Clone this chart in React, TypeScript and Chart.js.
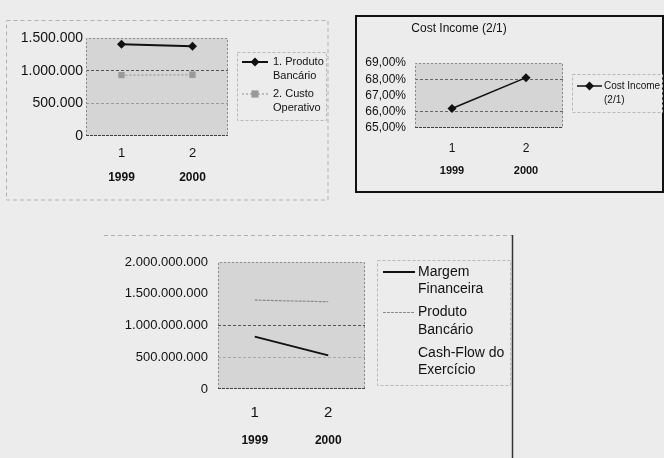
import React, { useEffect, useRef } from "react";
import { Chart, registerables } from "chart.js";
Chart.register(...registerables);

const FONT = "'Liberation Sans', Arial, sans-serif";

// ---- data ----
const TICK_NUMBERS = ["1", "2"];
const YEARS = ["1999", "2000"];

const PRODUTO_BANCARIO_K = [1406000, 1375000];
const CUSTO_OPERATIVO_K = [931000, 937000];

const COST_INCOME = [66.2, 68.1];

const MARGEM_FINANCEIRA = [825000000, 530000000];
const PRODUTO_BANCARIO = [1400000000, 1374000000];
const CASH_FLOW: (number | null)[] = [];

const TITLE2 = "Cost Income (2/1)";
const LABELS1 = ["1. Produto Bancário", "2. Custo Operativo"];
const LEGEND1 = [["1. Produto", "Bancário"], ["2. Custo", "Operativo"]];
const LABELS2 = ["Cost Income (2/1)"];
const LEGEND2 = [["Cost Income", "(2/1)"]];
const LABELS3 = ["Margem Financeira", "Produto Bancário", "Cash-Flow do Exercício"];
const LEGEND3 = [["Margem", "Financeira"], ["Produto", "Bancário"], ["Cash-Flow do", "Exercício"]];

const dotted = (v: number) => String(Math.round(v)).replace(/\B(?=(\d{3})+(?!\d))/g, ".");
const pct = (v: number) => v.toFixed(2).replace(".", ",") + "%";

// ---- decoration plugin ----
const decoPlugin = {
  id: "deco",
  beforeDraw(chart: any, _a: any, o: any) {
    const ctx = chart.ctx;
    const { left, top, right, bottom } = chart.chartArea;
    const W = chart.width, H = chart.height;
    ctx.save();
    if (o.frame === "dashed") {
      ctx.strokeStyle = "#b0b0b0";
      ctx.lineWidth = 1;
      ctx.setLineDash([4, 3]);
      ctx.strokeRect(0.5, 0.5, W - 1.5, H - 1.5);
    } else if (o.frame === "solid") {
      ctx.strokeStyle = "#111";
      ctx.lineWidth = 2;
      ctx.setLineDash([]);
      ctx.strokeRect(1, 1, W - 2, H - 2);
    } else if (o.frame === "topRight") {
      ctx.strokeStyle = "#b0b0b0";
      ctx.lineWidth = 1;
      ctx.setLineDash([4, 3]);
      ctx.beginPath();
      ctx.moveTo(0, 0.5);
      ctx.lineTo(W - 2, 0.5);
      ctx.stroke();
      ctx.setLineDash([]);
      ctx.strokeStyle = "#333";
      ctx.lineWidth = 1.5;
      ctx.beginPath();
      ctx.moveTo(W - 1.5, 0);
      ctx.lineTo(W - 1.5, H);
      ctx.stroke();
    }
    ctx.setLineDash([]);
    ctx.fillStyle = "#d5d5d5";
    ctx.fillRect(left, top, right - left, bottom - top);
    ctx.restore();
  },
  beforeDatasetsDraw(chart: any) {
    const ctx = chart.ctx;
    const { left, top, right, bottom } = chart.chartArea;
    ctx.save();
    ctx.strokeStyle = "#8a8a8a";
    ctx.lineWidth = 1;
    ctx.setLineDash([2, 2]);
    ctx.beginPath();
    ctx.moveTo(left + 0.5, bottom);
    ctx.lineTo(left + 0.5, top + 0.5);
    ctx.lineTo(right - 0.5, top + 0.5);
    ctx.lineTo(right - 0.5, bottom);
    ctx.stroke();
    ctx.setLineDash([3, 1]);
    ctx.strokeStyle = "#444";
    ctx.beginPath();
    ctx.moveTo(left, bottom - 0.5);
    ctx.lineTo(right, bottom - 0.5);
    ctx.stroke();
    ctx.restore();
  },
  afterDraw(chart: any, _a: any, o: any) {
    const lg = o.legend;
    if (!lg) return;
    const ctx = chart.ctx;
    ctx.save();
    ctx.strokeStyle = "#b8b8b8";
    ctx.lineWidth = 1;
    ctx.setLineDash([3, 2]);
    ctx.strokeRect(lg.x + 0.5, lg.y + 0.5, lg.w, lg.h);
    ctx.setLineDash([]);
    ctx.font = `${lg.fontSize}px ${FONT}`;
    ctx.textBaseline = "middle";
    ctx.textAlign = "left";
    chart.data.datasets.forEach((ds: any, i: number) => {
      const iy = lg.firstY + i * lg.itemGap;
      if (ds.borderColor && ds.borderColor !== "transparent") {
        ctx.strokeStyle = ds.borderColor;
        ctx.lineWidth = ds.borderWidth || 1;
        ctx.setLineDash(ds.borderDash || []);
        ctx.beginPath();
        ctx.moveTo(lg.lineX0, iy);
        ctx.lineTo(lg.lineX1, iy);
        ctx.stroke();
        ctx.setLineDash([]);
        const r = ds.pointRadius || 0;
        if (r > 0) {
          const cx = (lg.lineX0 + lg.lineX1) / 2;
          ctx.fillStyle = ds.pointBackgroundColor;
          ctx.beginPath();
          if (ds.pointStyle === "rectRot") {
            ctx.moveTo(cx, iy - r);
            ctx.lineTo(cx + r, iy);
            ctx.lineTo(cx, iy + r);
            ctx.lineTo(cx - r, iy);
            ctx.closePath();
          } else {
            ctx.rect(cx - r * 0.8, iy - r * 0.8, r * 1.6, r * 1.6);
          }
          ctx.fill();
        }
      }
      ctx.fillStyle = "#111";
      (lg.lines[i] || []).forEach((t: string, j: number) => {
        ctx.fillText(t, lg.textX, iy + j * lg.lineHeight);
      });
    });
    ctx.restore();
  },
};

function xAxes(numSize: number, numPad: number, h1: number, yearSize: number, yearPad: number, h2: number) {
  return {
    x: {
      type: "category",
      labels: TICK_NUMBERS,
      offset: true,
      weight: 1,
      grid: { display: false, drawTicks: false },
      border: { display: false },
      ticks: { color: "#111", padding: numPad, maxRotation: 0, autoSkip: false, font: { family: FONT, size: numSize } },
      afterFit: (s: any) => { s.height = h1; },
    },
    x2: {
      type: "category",
      position: "bottom",
      labels: YEARS,
      offset: true,
      weight: 2,
      grid: { display: false, drawTicks: false },
      border: { display: false },
      ticks: { color: "#111", padding: yearPad, maxRotation: 0, autoSkip: false, font: { family: FONT, size: yearSize, weight: "bold" } },
      afterFit: (s: any) => { s.height = h2; },
    },
  };
}

function ChartBox({ left, top, width, height, config }: any) {
  const ref = useRef<HTMLCanvasElement | null>(null);
  useEffect(() => {
    if (!ref.current) return;
    const c = new Chart(ref.current, config);
    return () => c.destroy();
  }, []);
  return (
    <canvas
      ref={ref}
      width={width}
      height={height}
      style={{ position: "absolute", left, top, width, height }}
    />
  );
}

const baseOptions = {
  responsive: false,
  animation: false,
  devicePixelRatio: 1,
  events: [],
};

const config1 = {
  type: "line",
  data: {
    labels: TICK_NUMBERS,
    datasets: [
      {
        label: LABELS1[0],
        data: PRODUTO_BANCARIO_K,
        borderColor: "#111",
        borderWidth: 2,
        pointStyle: "rectRot",
        pointRadius: 4.5,
        pointBackgroundColor: "#111",
        pointBorderColor: "#111",
        pointBorderWidth: 0,
      },
      {
        label: LABELS1[1],
        data: CUSTO_OPERATIVO_K,
        borderColor: "#8c8c8c",
        borderWidth: 1,
        borderDash: [2, 2],
        pointStyle: "rect",
        pointRadius: 4.5,
        pointBackgroundColor: "#9a9a9a",
        pointBorderColor: "#9a9a9a",
        pointBorderWidth: 0,
      },
    ],
  },
  options: {
    ...baseOptions,
    layout: { padding: { left: 0, top: 18, right: 101, bottom: 0 } },
    plugins: {
      legend: { display: false },
      tooltip: { enabled: false },
      deco: {
        frame: "dashed",
        legend: { x: 231, y: 32, w: 89, h: 68, firstY: 42, itemGap: 32, lineHeight: 14, fontSize: 11, lineX0: 236, lineX1: 262, textX: 267, lines: LEGEND1 },
      },
    },
    scales: {
      ...xAxes(13, 10, 28, 12, 6, 37),
      y: {
        min: 0,
        max: 1500000,
        ticks: { stepSize: 500000, autoSkip: false, color: "#111", padding: 3, font: { family: FONT, size: 14 }, callback: (v: any) => dotted(v) },
        grid: {
          drawTicks: false,
          color: (c: any) => (c.tick && c.tick.value === 1000000 ? "#555" : c.tick && c.tick.value === 500000 ? "#9a9a9a" : "transparent"),
        },
        border: { display: false, dash: [3, 2] },
        afterFit: (s: any) => { s.width = 80; },
      },
    },
  },
  plugins: [decoPlugin],
};

const config2 = {
  type: "line",
  data: {
    labels: TICK_NUMBERS,
    datasets: [
      {
        label: LABELS2[0],
        data: COST_INCOME,
        borderColor: "#111",
        borderWidth: 1.5,
        pointStyle: "rectRot",
        pointRadius: 4.5,
        pointBackgroundColor: "#111",
        pointBorderColor: "#111",
        pointBorderWidth: 0,
      },
    ],
  },
  options: {
    ...baseOptions,
    layout: { padding: { left: 0, top: 0, right: 101, bottom: 0 } },
    plugins: {
      legend: { display: false },
      tooltip: { enabled: false },
      title: {
        display: true,
        text: TITLE2,
        color: "#111",
        font: { family: FONT, size: 12, weight: "normal" },
        padding: { top: 6, bottom: 27.6 },
      },
      deco: {
        frame: "solid",
        legend: { x: 217, y: 59, w: 90, h: 38, firstY: 71, itemGap: 30, lineHeight: 14, fontSize: 10, lineX0: 222, lineX1: 247, textX: 249, lines: LEGEND2 },
      },
    },
    scales: {
      ...xAxes(12, 13, 27, 11, 9, 38),
      y: {
        min: 65,
        max: 69,
        ticks: { stepSize: 1, autoSkip: false, color: "#111", padding: 9, font: { family: FONT, size: 12 }, callback: (v: any) => pct(v) },
        grid: {
          drawTicks: false,
          color: (c: any) => (c.tick && (c.tick.value === 66 || c.tick.value === 68) ? "#666" : "transparent"),
        },
        border: { display: false, dash: [3, 2] },
        afterFit: (s: any) => { s.width = 60; },
      },
    },
  },
  plugins: [decoPlugin],
};

const config3 = {
  type: "line",
  data: {
    labels: TICK_NUMBERS,
    datasets: [
      {
        label: LABELS3[0],
        data: MARGEM_FINANCEIRA,
        borderColor: "#111",
        borderWidth: 2,
        pointRadius: 0,
      },
      {
        label: LABELS3[1],
        data: PRODUTO_BANCARIO,
        borderColor: "#8a8a8a",
        borderWidth: 1.2,
        borderDash: [3, 1],
        pointRadius: 0,
      },
      {
        label: LABELS3[2],
        data: CASH_FLOW,
        borderColor: "transparent",
        borderWidth: 0,
        pointRadius: 0,
      },
    ],
  },
  options: {
    ...baseOptions,
    layout: { padding: { left: 0, top: 27, right: 149, bottom: 0 } },
    plugins: {
      legend: { display: false },
      tooltip: { enabled: false },
      deco: {
        frame: "topRight",
        legend: { x: 273, y: 25, w: 133, h: 125, firstY: 37, itemGap: 40.5, lineHeight: 17.5, fontSize: 14, lineX0: 279, lineX1: 311, textX: 314, lines: LEGEND3 },
      },
    },
    scales: {
      ...xAxes(15, 15, 32, 12, 12, 37),
      y: {
        min: 0,
        max: 2000000000,
        ticks: { stepSize: 500000000, autoSkip: false, color: "#111", padding: 10, font: { family: FONT, size: 13 }, callback: (v: any) => dotted(v) },
        grid: {
          drawTicks: false,
          color: (c: any) => (c.tick && c.tick.value === 1000000000 ? "#555" : c.tick && c.tick.value === 500000000 ? "#a8a8a8" : "transparent"),
        },
        border: { display: false, dash: [3, 2] },
        afterFit: (s: any) => { s.width = 114; },
      },
    },
  },
  plugins: [decoPlugin],
};

export default function App() {
  return (
    <div
      style={{
        position: "fixed",
        left: 0,
        top: 0,
        width: 664,
        height: 458,
        background: "#ececec",
        overflow: "hidden",
      }}
    >
      <ChartBox left={6} top={20} width={323} height={181} config={config1} />
      <ChartBox left={355} top={15} width={309} height={178} config={config2} />
      <ChartBox left={104} top={235} width={410} height={223} config={config3} />
    </div>
  );
}
